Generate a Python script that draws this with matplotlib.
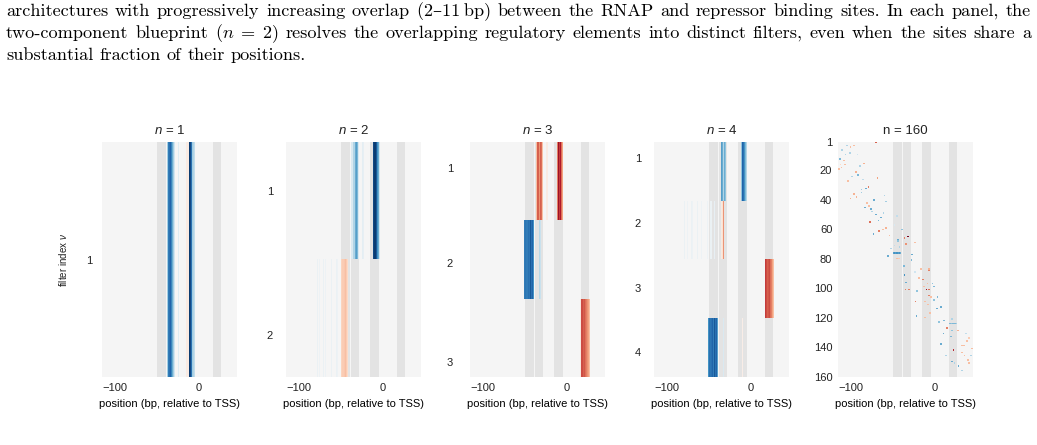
import numpy as np
import matplotlib
matplotlib.use("Agg")
import matplotlib.pyplot as plt

plt.rcParams["font.family"] = ["Liberation Sans", "DejaVu Sans"]
plt.rcParams["mathtext.fontset"] = "custom"
plt.rcParams["mathtext.rm"] = "Liberation Sans"
plt.rcParams["mathtext.it"] = "Liberation Sans:italic"
plt.rcParams["text.color"] = "#222222"

# positions along the promoter (bp, relative to TSS), one column per bp
POS_MIN, POS_MAX = -115, 45
# binding sites shaded in grey (start, end)
SITES = [(-50, -39), (-38, -29), (-15, -5), (16, 26)]

N_FILTERS = [1, 2, 3, 4]

# filter weights: (filter row, first position, weights per bp); blue < 0 < red
STRIPES_N1 = [
    (1, -38, [-0.35, -0.7, -0.85, -0.75, -0.8, -0.65, -0.5, -0.35, -0.2]),
    (1, -29, [0.1]),
    (1, -25, [-0.12]),
    (1, -15, [0.08, 0.08, 0.08]),
    (1, -12, [-0.95, -0.9, -0.75, -0.75, -0.35, -0.3, -0.25]),
]
STRIPES_N2 = [
    (1, -38, [-0.15, -0.15, -0.3, -0.3, -0.3, -0.5, -0.55, -0.45, -0.15]),
    (1, -25, [-0.1, -0.08]),
    (1, -12, [-0.9, -0.95, -0.7, -0.95, -0.85, -0.6, -0.5, -0.2, -0.12]),
    (2, -78, [-0.06]), (2, -76, [-0.05]), (2, -71, [-0.06]), (2, -69, [-0.05]),
    (2, -62, [-0.06]), (2, -61, [-0.04]), (2, -56, [-0.06]), (2, -54, [-0.05]),
    (2, -50, [0.22, 0.25, 0.28, 0.25, 0.27, 0.3, 0.25, 0.2]),
]
STRIPES_N3 = [
    (1, -37, [0.3, 0.3, 0.6, 0.6, 0.45, 0.6, 0.55, 0.3]),
    (1, -25, [0.08, 0.08]),
    (1, -12, [0.5, 0.85, 0.9, 0.7, 0.8, 0.55, 0.4]),
    (2, -51, [-0.7, -0.72, -0.7, -0.72, -0.7, -0.75, -0.72, -0.85, -0.75,
              -0.55, -0.8, -0.6]),
    (2, -33, [-0.28, -0.22]),
    (3, 15, [0.1, 0.6, 0.65, 0.65, 0.6, 0.62, 0.55, 0.58, 0.5, 0.45, 0.4, 0.3]),
]
STRIPES_N4 = [
    (1, -36, [-0.35, -0.55, -0.5, -0.3, -0.5, -0.4]),
    (1, -12, [-0.4, -0.8, -0.8, -0.75, -0.6, -0.45, -0.3]),
    (2, -79, [-0.06]), (2, -76, [-0.05]), (2, -71, [-0.06]), (2, -70, [-0.05]),
    (2, -64, [-0.06]), (2, -59, [-0.05]), (2, -55, [-0.06]), (2, -52, [-0.05]),
    (2, -49, [-0.07]), (2, -47, [-0.06]), (2, -44, [-0.08]), (2, -42, [-0.06]),
    (2, -36, [0.1, 0.1, 0.15, 0.45]),
    (3, 16, [0.65, 0.7, 0.65, 0.6, 0.62, 0.65, 0.6, 0.55, 0.5, 0.4, 0.3]),
    (4, -51, [-0.6, -0.75, -0.72, -0.7, -0.75, -0.8, -0.7, -0.85, -0.75,
              -0.6, -0.8, -0.55]),
    (4, -33, [-0.15]),
    (4, -11, [0.07, 0.07]),
]
FILTER_STRIPES = [STRIPES_N1, STRIPES_N2, STRIPES_N3, STRIPES_N4]
# where the y tick labels sit, as a fraction of the panel height from the top
YTICK_FRAC = [[0.5], [0.209, 0.821], [0.112, 0.516, 0.935],
              [0.069, 0.346, 0.62, 0.892]]

# n = 160: scattered single-position filters
N_BIG = 160
STRIPES_N160 = [
    (76, -50, [-0.55, -0.6, -0.6, -0.55, -0.6, -0.6, -0.55, -0.6, -0.6, -0.5]),
    (124, 16, [-0.4, -0.45, -0.45, -0.4, -0.45, -0.45, -0.4, -0.45, -0.45, -0.35]),
]
DOT_ROW = [1, 3, 4, 3, 6, 9, 8, 9, 12, 13,
           16, 16, 15, 17, 19, 18, 21, 23, 24, 27,
           26, 25, 31, 32, 33, 35, 36, 37, 38, 39,
           40, 41, 42, 44, 45, 46, 48, 49, 50, 51,
           52, 54, 55, 57, 59, 60, 60, 61, 63, 64,
           65, 66, 67, 68, 69, 70, 71, 72, 73, 77,
           78, 80, 80, 81, 85, 87, 87, 88, 89, 91,
           93, 94, 96, 97, 97, 99, 99, 101, 101, 101,
           101, 102, 105, 106, 106, 108, 109, 109, 111, 113,
           114, 117, 119, 120, 121, 122, 123, 127, 129, 129,
           131, 131, 133, 134, 136, 138, 139, 139, 141, 142,
           144, 146, 146, 146, 149, 150, 151, 151, 153, 156]
DOT_POS = [-71, -105, -101, -97, -111, -107, -102, -93, -114, -109,
           -113, -108, -85, -90, -115, -112, -95, -92, -99, -104,
           -86, -69, -80, -83, -88, -88, -97, -61, -94, -101,
           -73, -59, -82, -79, -84, -77, -76, -62, -71, -46,
           -65, -68, -78, -49, -59, -63, -40, -67, -74, -55,
           -33, -37, -45, -45, -25, -35, -49, -43, -53, -28,
           -57, -46, -44, -29, -38, -18, -8, -8, -25, -37,
           -20, -15, -35, -4, -10, -14, -2, -36, -32, -11,
           -8, -22, -8, -6, 2, -2, -24, -13, -9, 6,
           1, -7, -23, -13, 19, 10, 4, 13, 19, 26,
           9, 36, 18, 39, 37, 6, 31, 33, 43, 21,
           31, 12, 34, 42, 38, 19, 22, 39, 27, 31]
DOT_VAL = [0.6, -0.3, 0.3, 0.3, -0.3, -0.3, -0.3, -0.2, -0.45, 0.3,
           0.2, 0.3, 0.35, -0.3, 0.3, 0.3, 0.35, -0.45, -0.3, 0.3,
           -0.25, 0.4, 0.5, -0.5, -0.35, -0.35, 0.35, -0.3, 0.35, 0.35,
           -0.5, -0.35, 0.3, 0.3, -0.5, -0.5, -0.3, -0.3, -0.5, -0.25,
           -0.5, -0.45, 0.55, -0.15, 0.35, 0.3, -0.4, 0.5, -0.5, 0.3,
           0.95, 0.5, -0.5, -0.4, 0.3, 0.45, -0.25, -0.3, -0.3, -0.5,
           -0.5, 0.3, 0.25, -0.45, -0.45, 0.3, 0.35, 0.5, -0.2, -0.6,
           0.3, 0.5, -0.5, -0.4, 0.3, 0.3, -0.45, 0.5, 0.5, 0.85,
           0.55, -0.4, 0.5, 0.3, -0.45, -0.4, 0.5, 0.3, 0.3, -0.5,
           -0.5, 0.3, -0.5, 0.3, -0.3, -0.45, -0.4, 0.5, -0.4, 0.35,
           -0.5, -0.25, -0.45, 0.25, 0.3, -0.5, 0.3, 0.3, 0.3, 0.75,
           0.3, -0.3, 0.3, -0.3, 0.3, -0.5, -0.3, 0.3, -0.5, -0.3]
BIG_YTICKS = [1, 20, 40, 60, 80, 100, 120, 140, 160]
XTICKS = [-100, 0]

CAPTION_LINES = [
    ["architectures", "with", "progressively", "increasing", "overlap",
     "(2\u201311\u2009bp)", "between", "the", "RNAP", "and", "repressor",
     "binding", "sites.", "In", "each", "panel,", "the"],
    ["two-component", "blueprint", r"($n\;=\;2$)", "resolves", "the",
     "overlapping", "regulatory", "elements", "into", "distinct", "filters,",
     "even", "when", "the", "sites", "share", "a"],
    ["substantial", "fraction", "of", "their", "positions."],
]

# ---- layout (pixels) ----
FIG_W, FIG_H = 1037, 445
AX_LEFT = [102, 286, 470, 654, 838]
AX_TOP, AX_BOTTOM, AX_W = 142, 377, 135
YTICK_PAD = [7.2, 9.4, 12.2, 9.4, 4.1]
BG = "#f5f5f5"
SITE_COLOR = "#e3e3e3"
CAPTION_BASELINES = [16, 38, 60]
CAPTION_X0, CAPTION_X1 = 6, 1031
CAPTION_LAST_W = 300


def build_matrix(n_rows, stripes):
    m = np.zeros((n_rows, POS_MAX - POS_MIN))
    for row, start, vals in stripes:
        j = start - POS_MIN
        m[row - 1, j:j + len(vals)] = vals
    return m


def style_axes(ax, title, ypad):
    ax.set_facecolor(BG)
    for a, b in SITES:
        ax.axvspan(a, b, color=SITE_COLOR, lw=0, zorder=1)
    for s in ax.spines.values():
        s.set_visible(False)
    ax.set_xlim(POS_MIN, POS_MAX)
    ax.set_xticks(XTICKS)
    ax.tick_params(length=0, labelsize=8, labelcolor="#222222")
    ax.tick_params(axis="x", pad=4.5)
    ax.tick_params(axis="y", pad=ypad)
    ax.set_xlabel("position (bp, relative to TSS)", fontsize=8, labelpad=4)
    ax.set_title(title, fontsize=9.5, pad=6)


fig = plt.figure(figsize=(FIG_W / 100, FIG_H / 100), dpi=100)
axes = [fig.add_axes([l / FIG_W, 1 - AX_BOTTOM / FIG_H, AX_W / FIG_W,
                      (AX_BOTTOM - AX_TOP) / FIG_H]) for l in AX_LEFT]

for i, n in enumerate(N_FILTERS):
    ax = axes[i]
    m = build_matrix(n, FILTER_STRIPES[i])
    ax.imshow(np.ma.masked_equal(m, 0), cmap="RdBu_r", vmin=-1, vmax=1,
              aspect="auto", extent=(POS_MIN, POS_MAX, n + 0.5, 0.5),
              interpolation="nearest", zorder=2)
    style_axes(ax, f"$n$ = {n}", YTICK_PAD[i])
    ax.set_ylim(n + 0.5, 0.5)
    ax.set_yticks([0.5 + f * n for f in YTICK_FRAC[i]])
    ax.set_yticklabels([str(k) for k in range(1, n + 1)])

# n = 160 panel
ax = axes[4]
m = build_matrix(N_BIG, STRIPES_N160)
for r, p, v in zip(DOT_ROW, DOT_POS, DOT_VAL):
    j = p - POS_MIN
    m[r - 1, j:j + 2] = v
ax.imshow(np.ma.masked_equal(m, 0), cmap="RdBu_r", vmin=-1, vmax=1,
          aspect="auto", extent=(POS_MIN, POS_MAX, N_BIG, 1),
          interpolation="nearest", zorder=2)
style_axes(ax, f"n = {N_BIG}", YTICK_PAD[4])
ax.set_ylim(N_BIG, 1)
ax.set_yticks(BIG_YTICKS)

fig.text(63 / FIG_W, 1 - 260 / FIG_H, r"filter index $\nu$", rotation=90,
         ha="center", va="center", fontsize=7)

# caption above the panels, justified like the paper text
renderer = fig.canvas.get_renderer()
cap_kw = dict(family=["cmr10", "DejaVu Serif"], math_fontfamily="cm",
              color="black", va="baseline", ha="left")
probe = [fig.text(0, 0, w, fontsize=10, **cap_kw) for w in CAPTION_LINES[2]]
w10 = sum(t.get_window_extent(renderer).width for t in probe)
for t in probe:
    t.remove()
space10 = 0.333 * 10 * 100 / 72
cap_size = 10 * CAPTION_LAST_W / (w10 + space10 * (len(CAPTION_LINES[2]) - 1))

for k, words in enumerate(CAPTION_LINES):
    y = 1 - CAPTION_BASELINES[k] / FIG_H
    texts = [fig.text(0, y, w, fontsize=cap_size, **cap_kw) for w in words]
    widths = [t.get_window_extent(renderer).width for t in texts]
    if k < len(CAPTION_LINES) - 1:
        gap = (CAPTION_X1 - CAPTION_X0 - sum(widths)) / (len(words) - 1)
    else:
        gap = 0.333 * cap_size * 100 / 72
    x = CAPTION_X0
    for t, w in zip(texts, widths):
        t.set_x(x / FIG_W)
        x += w + gap

fig.savefig("out.png", dpi=100)
